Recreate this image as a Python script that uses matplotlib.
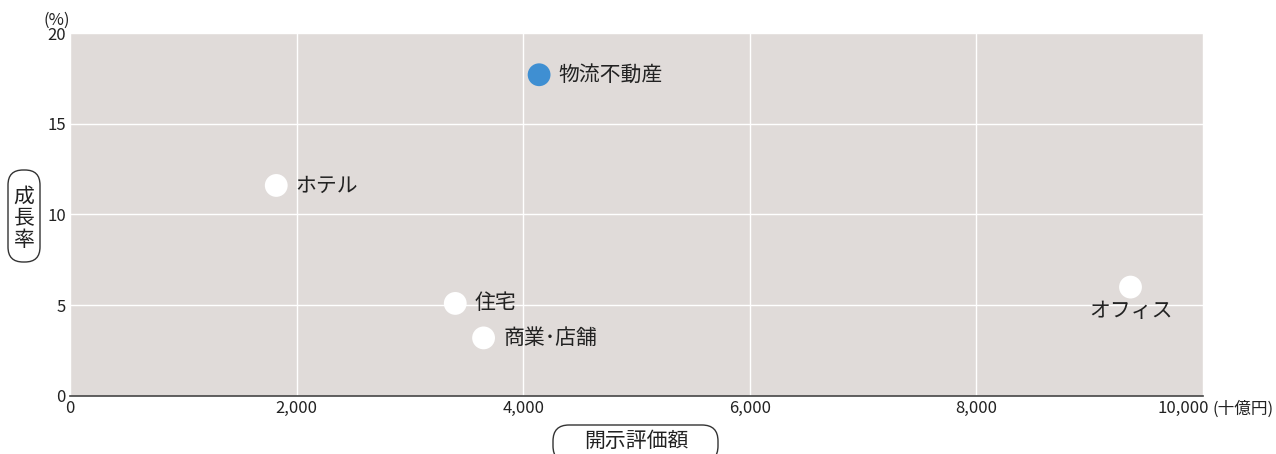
import matplotlib
matplotlib.use("Agg")
import matplotlib.pyplot as plt
from matplotlib.patches import FancyBboxPatch
from matplotlib.transforms import ScaledTranslation
from matplotlib.ticker import FuncFormatter

plt.rcParams['font.family'] = ['Noto Sans CJK JP', 'DejaVu Sans']

# data
sectors = ['物流不動産', 'ホテル', '住宅', '商業･店舗', 'オフィス']
appraisal = [4140, 1820, 3400, 3650, 9360]   # 十億円
growth = [17.7, 11.6, 5.1, 3.2, 6.0]         # %
colors = ['#3f8fd2', 'white', 'white', 'white', 'white']

BG = '#e0dbd9'
TXT = '#222222'

fig = plt.figure(figsize=(12.76, 4.54), dpi=100)
ax = fig.add_axes([0.0549, 0.1278, 0.8879, 0.7995])
ax.set_facecolor(BG)

ax.scatter(appraisal, growth, s=270, c=colors, edgecolors='none', zorder=3)

# labels beside points
for name, x, y in zip(sectors, appraisal, growth):
    if name == 'オフィス':
        ax.annotate(name, (x, y), xytext=(0, -9), textcoords='offset points',
                    ha='center', va='top', fontsize=15, color=TXT)
    else:
        ax.annotate(name, (x, y), xytext=(14, 0), textcoords='offset points',
                    ha='left', va='center', fontsize=15, color=TXT)

ax.set_xlim(0, 10000)
ax.set_ylim(0, 20)
ax.set_xticks(range(0, 10001, 2000))
ax.set_yticks(range(0, 21, 5))
ax.xaxis.set_major_formatter(FuncFormatter(lambda v, p: f'{int(v):,}'))
ax.grid(True, color='white', linewidth=1.0)
ax.set_axisbelow(True)
ax.tick_params(axis='both', length=0, labelsize=12, colors=TXT, pad=3)

for s in ['top', 'right', 'left']:
    ax.spines[s].set_visible(False)
ax.spines['bottom'].set_color('#444444')
ax.spines['bottom'].set_linewidth(1.2)

# last x tick label sits a bit left so the unit fits after it
last = ax.get_xticklabels()[-1]
last.set_transform(last.get_transform() + ScaledTranslation(-14 / 72, 0, fig.dpi_scale_trans))

# units
fig.text(0.0445, 0.975, '(%)', ha='center', va='top', fontsize=12, color=TXT)
fig.text(0.9505, 0.098, '(十億円)', ha='left', va='center', fontsize=12, color=TXT)

# axis titles in rounded boxes (inch coords)
fig.patches.append(FancyBboxPatch((0.08, 1.92), 0.32, 0.92,
                                  boxstyle='round,pad=0,rounding_size=0.15',
                                  transform=fig.dpi_scale_trans, fc='white',
                                  ec='#333333', lw=1.0, figure=fig))
fig.patches.append(FancyBboxPatch((5.53, -0.08), 1.65, 0.37,
                                  boxstyle='round,pad=0,rounding_size=0.16',
                                  transform=fig.dpi_scale_trans, fc='white',
                                  ec='#333333', lw=1.0, figure=fig))
fig.text(0.0188, 0.519, '成\n長\n率', ha='center', va='center', fontsize=15,
         color=TXT, linespacing=1.0)
fig.text(0.4985, 0.029, '開示評価額', ha='center', va='center', fontsize=15,
         color=TXT)

fig.savefig('out.png', dpi=100)
